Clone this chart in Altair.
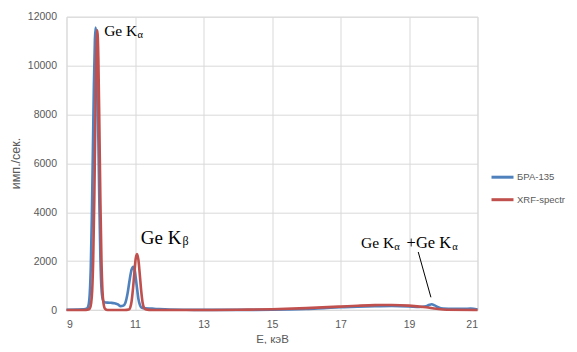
import altair as alt
import pandas as pd

# Series 1: БРА-135
bra_x = [9.0, 9.3, 9.5, 9.6, 9.65, 9.68, 9.71, 9.74, 9.77, 9.8, 9.83, 9.85, 9.87, 9.9, 9.93,
         9.96, 9.99, 10.02, 10.06, 10.1, 10.2, 10.3, 10.4, 10.5, 10.58, 10.65, 10.72, 10.78,
         10.84, 10.9, 10.95, 11.0, 11.05, 11.1, 11.15, 11.2, 11.3, 11.5, 11.7, 12.0, 12.5,
         13.0, 14.0, 15.0, 15.5, 16.0, 16.5, 17.0, 17.5, 18.0, 18.5, 19.0, 19.3, 19.5, 19.6,
         19.66, 19.75, 19.85, 20.0, 20.3, 20.6, 20.8, 21.0]
bra_y = [10, 15, 25, 60, 250, 700, 1800, 3800, 6500, 9200, 11100, 11560, 11200, 9600, 7000,
         4300, 2100, 900, 420, 320, 300, 295, 280, 230, 160, 170, 300, 650,
         1200, 1650, 1770, 1550, 1000, 450, 180, 90, 65, 55, 35, 15, 8,
         5, 5, 10, 20, 40, 75, 110, 140, 160, 170, 150, 120, 150, 215,
         235, 190, 110, 55, 45, 45, 60, 20]

# Series 2: XRF-spectr
xrf_x = [9.0, 9.5, 9.64, 9.68, 9.72, 9.75, 9.78, 9.81, 9.84, 9.87, 9.9, 9.93, 9.96, 9.99,
         10.02, 10.05, 10.08, 10.12, 10.2, 10.7, 10.82, 10.86, 10.9, 10.94, 10.98, 11.02,
         11.06, 11.1, 11.14, 11.18, 11.22, 11.26, 11.32, 11.5, 13.0, 14.0, 15.0, 16.0, 17.0,
         17.5, 18.0, 18.5, 19.0, 19.5, 19.8, 20.1, 21.0]
xrf_y = [0, 0, 20, 60, 280, 800, 2100, 4400, 7500, 10300, 11440, 10300, 7500, 4400,
         2100, 800, 280, 60, 0, 0, 20, 100, 350, 850, 1500, 2100,
         2290, 2050, 1450, 800, 320, 100, 20, 0, 0, 10, 30, 75, 140,
         175, 200, 205, 180, 110, 50, 10, 0]

series_names = ["БРА-135", "XRF-spectr"]
series_colors = ["#4F81BD", "#C0504D"]

x_ticks = [9, 11, 13, 15, 17, 19, 21]
y_ticks = [0, 2000, 4000, 6000, 8000, 10000, 12000]

# Annotations (main text)
ann_text = ["Ge K", "Ge K", "Ge K", "+Ge K"]
ann_x = [10.10, 11.17, 17.60, 18.93]
ann_y = [11222, 2688, 2549, 2549]
ann_size = [15.5, 19, 15.5, 16.5]
# Subscripts
sub_text = ["α", "β", "α", "α"]
sub_x = [11.07, 12.39, 18.57, 20.26]
sub_y = [11148, 2639, 2475, 2475]
sub_size = [10.5, 12, 10.5, 10.5]
# Pointer line
ptr_x, ptr_y, ptr_x2, ptr_y2 = [19.27], [2373], [19.64], [520]

df = pd.concat([
    pd.DataFrame({"E": bra_x, "v": bra_y, "s": series_names[0], "o": 0}),
    pd.DataFrame({"E": xrf_x, "v": xrf_y, "s": series_names[1], "o": 1}),
])
ann_df = pd.DataFrame({"t": ann_text, "x": ann_x, "y": ann_y, "size": ann_size})
sub_df = pd.DataFrame({"t": sub_text, "x": sub_x, "y": sub_y, "size": sub_size})
ptr_df = pd.DataFrame({"x": ptr_x, "y": ptr_y, "x2": ptr_x2, "y2": ptr_y2})

xscale = alt.Scale(domain=[9, 21], nice=False, zero=False)
yscale = alt.Scale(domain=[0, 12000], nice=False)

lines = alt.Chart(df).mark_line(strokeWidth=2.6, interpolate="monotone").encode(
    x=alt.X("E:Q", scale=xscale, axis=alt.Axis(
        title="E, кэВ", values=x_ticks, ticks=False, domain=False, labelPadding=9,
        labelFont="Liberation Sans", labelFontSize=10.5, labelColor="#595959",
        titleFont="Liberation Sans", titleFontSize=11.5, titleFontWeight="normal",
        titleColor="#595959", titleY=32.5, titleBaseline="alphabetic",
        gridColor="#D9D9D9", gridWidth=1)),
    y=alt.Y("v:Q", scale=yscale, axis=alt.Axis(
        title="имп./сек.", values=y_ticks, format="d", ticks=False, domain=False,
        labelPadding=10,
        labelFont="Liberation Sans", labelFontSize=10.5, labelColor="#595959",
        titleFont="Liberation Sans", titleFontSize=12.5, titleFontWeight="normal",
        titleColor="#595959", titleX=-50.8, titleY=146.3, titleAngle=-90,
        titleAlign="center", titleBaseline="middle",
        gridColor="#D9D9D9", gridWidth=1)),
    color=alt.Color("s:N", scale=alt.Scale(domain=series_names, range=series_colors),
                    legend=alt.Legend(title=None, orient="none", legendX=423.5, legendY=148,
                                      symbolType="stroke", symbolStrokeWidth=3,
                                      symbolSize=484, labelFont="Liberation Sans",
                                      labelFontSize=9.5, labelColor="#595959",
                                      rowPadding=3.5, labelOffset=2, padding=0)),
    order="o:Q",
)

ann = alt.Chart(ann_df).mark_text(align="left", baseline="alphabetic",
                                  font="Liberation Serif", color="#000000").encode(
    x=alt.X("x:Q", scale=xscale), y=alt.Y("y:Q", scale=yscale),
    text="t:N", size=alt.Size("size:Q", scale=None))
sub = alt.Chart(sub_df).mark_text(align="left", baseline="alphabetic",
                                  font="Liberation Serif", color="#000000").encode(
    x=alt.X("x:Q", scale=xscale), y=alt.Y("y:Q", scale=yscale),
    text="t:N", size=alt.Size("size:Q", scale=None))
ptr = alt.Chart(ptr_df).mark_rule(color="#000000", strokeWidth=1).encode(
    x=alt.X("x:Q", scale=xscale), y=alt.Y("y:Q", scale=yscale),
    x2="x2:Q", y2="y2:Q")

chart = alt.layer(lines, ann, sub, ptr).properties(
    width=411, height=293.3,
    autosize=alt.AutoSizeParams(type="none"),
    padding={"left": 58.5, "top": 8.7, "right": 91.5, "bottom": 34},
).configure_view(stroke=None).configure(background="white")

chart.save("out.html", embed_options={"renderer": "svg", "actions": False})
